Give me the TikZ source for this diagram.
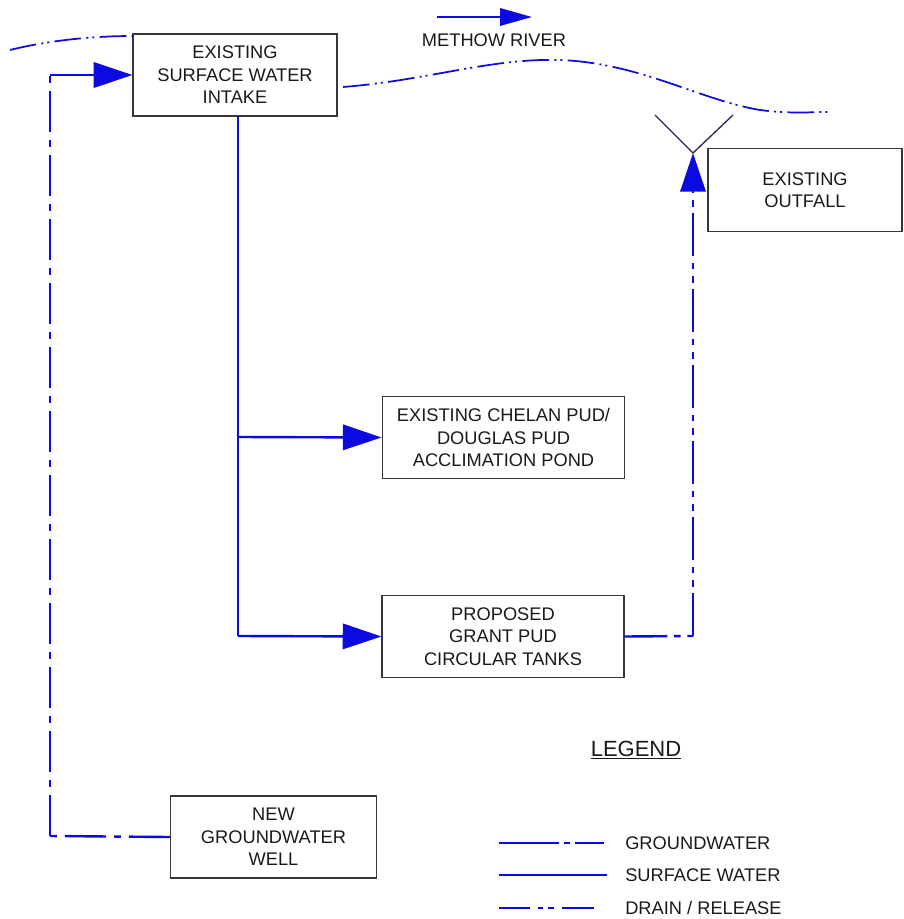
\documentclass[tikz,border=0pt]{standalone}
\usepackage{fontspec}
\setmainfont{Liberation Sans}
\usetikzlibrary{arrows.meta}
\definecolor{wblue}{RGB}{10,10,225}
\definecolor{ynavy}{RGB}{40,40,85}
\definecolor{boxgray}{RGB}{55,55,55}
\definecolor{txt}{RGB}{25,25,25}
\tikzset{
  box/.style={draw=boxgray, line width=0.9pt, align=center, inner sep=0pt,
    font=\fontsize{13.7}{16.9}\selectfont, text=txt},
  surf/.style={draw=wblue, line width=1.8pt},
  gw/.style={draw=wblue, line width=1.8pt, dash pattern=on 31pt off 6pt on 5pt off 6pt},
  drain/.style={draw=wblue, line width=1.8pt, dash pattern=on 32pt off 5pt on 5pt off 5pt on 5pt off 5pt},
  river/.style={draw=wblue, line width=1.3pt, dash pattern=on 20pt off 4pt on 1.5pt off 3pt on 1.5pt off 4pt},
  bigarrow/.style={-{Triangle[length=29pt,width=19pt]}},
  lbl/.style={anchor=west, inner sep=0pt, font=\fontsize{13.7}{16}\selectfont, text=txt}
}
\begin{document}
\begin{tikzpicture}[x=0.75pt,y=-0.75pt]
\useasboundingbox (0,0) rectangle (903,919);
% boxes
\node[box, minimum width=153pt, minimum height=61.5pt] (intake) at (235,75) {EXISTING\\SURFACE WATER\\INTAKE};
\node[box, minimum width=145.5pt, minimum height=62pt] (outfall) at (805,190) {EXISTING\\OUTFALL};
\node[box, minimum width=182pt, minimum height=62pt] (chelan) at (503.5,437.5) {EXISTING CHELAN PUD/\\DOUGLAS PUD\\ACCLIMATION POND};
\node[box, minimum width=181.5pt, minimum height=61pt] (prop) at (503,636.5) {PROPOSED\\GRANT PUD\\CIRCULAR TANKS};
\node[box, minimum width=154pt, minimum height=61.5pt] (well) at (273.5,837) {NEW\\GROUNDWATER\\WELL};
% junctions
\coordinate (top) at (238,116);
\coordinate (j1) at (238,437);
\coordinate (j2) at (238,636);
\coordinate (gwc) at (50,836);
\coordinate (dc) at (693,636);
\coordinate (ypt) at (693,153);
\coordinate (yl) at (655,115);
\coordinate (yr) at (733,115);
% surface water
\draw[surf] (top) -- (j2);
\draw[surf, bigarrow] (j1) -- (chelan.west);
\draw[surf, bigarrow] (j2) -- (prop.west);
% groundwater
\draw[gw] (well.west) -- (gwc);
\draw[gw] (gwc) -- (50,75);
\draw[surf, bigarrow] (50,75) -- (intake.west);
% drain
\draw[drain] (prop.east) -- (dc);
\draw[drain, bigarrow] (dc) -- (ypt);
\draw[ynavy, line width=1pt] (yl) -- (ypt) -- (yr);
% river
\draw[river] (10,50) .. controls (50,40) and (95,36) .. (133,36);
\draw[river] (343,87) .. controls (430,80) and (490,58) .. (560,60) .. controls (640,63) and (700,100) .. (760,110) .. controls (790,114) and (810,112) .. (828,112);
\coordinate (ra1) at (437,17);
\coordinate (ra2) at (532,17);
\draw[surf, -{Triangle[length=24pt,width=13pt]}] (ra1) -- (ra2);
\node[lbl, anchor=center] (rivlbl) at (494,40) {METHOW RIVER};
% legend
\node[lbl, anchor=center, font=\fontsize{16.5}{19}\selectfont] (legend) at (636,750) {\underline{LEGEND}};
\coordinate (l1a) at (499,843); \coordinate (l1b) at (607,843);
\coordinate (l2a) at (499,875); \coordinate (l2b) at (607,875);
\coordinate (l3a) at (499,908); \coordinate (l3b) at (607,908);
\draw[surf, dash pattern=on 45pt off 4pt on 4pt off 4pt on 22pt] (l1a) -- (l1b);
\draw[surf] (l2a) -- (l2b);
\draw[surf, dash pattern=on 23pt off 6pt on 4pt off 4pt on 4pt off 6pt on 24pt] (l3a) -- (l3b);
\node[lbl] (t1) at (625,843) {GROUNDWATER};
\node[lbl] (t2) at (625,875) {SURFACE WATER};
\node[lbl] (t3) at (625,908) {DRAIN / RELEASE};
\end{tikzpicture}
\end{document}
